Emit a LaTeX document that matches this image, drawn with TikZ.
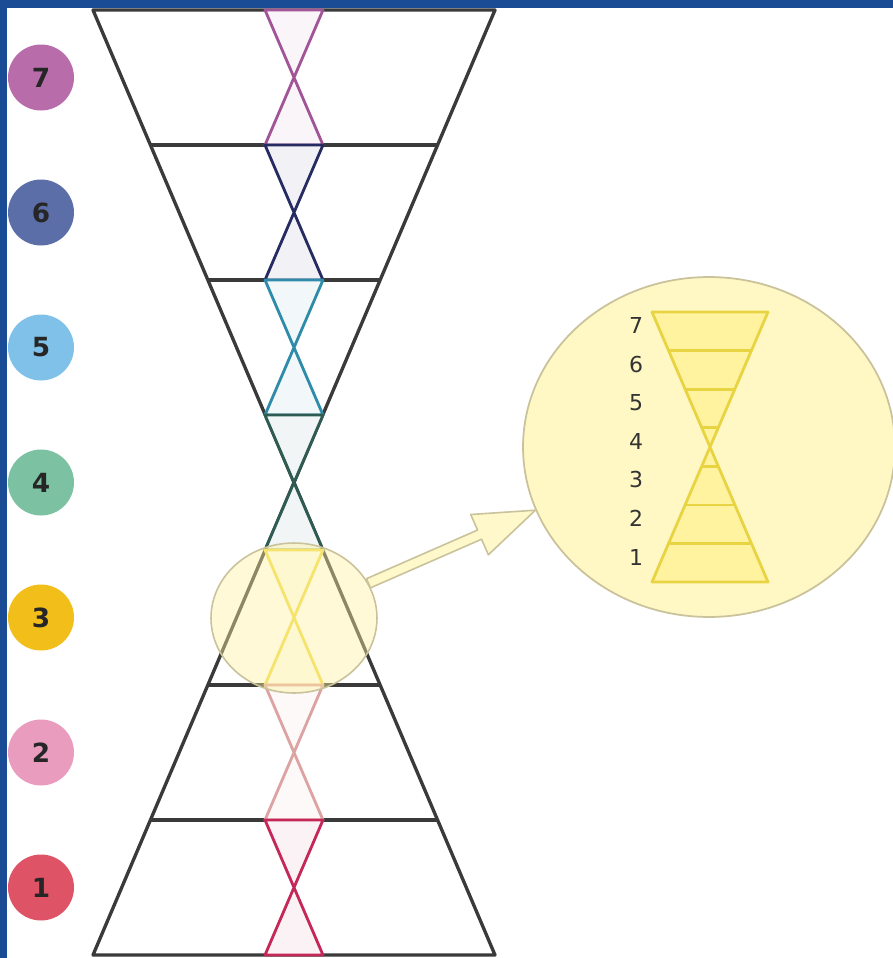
\documentclass[tikz,border=0pt]{standalone}
\usepackage{fontspec}
\setsansfont{DejaVu Sans}
\usetikzlibrary{calc, shapes.geometric}
\definecolor{cbg}{HTML}{1A4C96}
\definecolor{cline}{HTML}{3A3A3A}
\definecolor{clens}{HTML}{FFF3A0}
\definecolor{cedge}{HTML}{C9C29A}
\definecolor{cgold}{HTML}{E8D443}
\definecolor{ctext}{HTML}{333333}
\definecolor{c1}{HTML}{DE5466}
\definecolor{c2}{HTML}{EA9CBF}
\definecolor{c3}{HTML}{F2BE1A}
\definecolor{c4}{HTML}{7CC1A2}
\definecolor{c5}{HTML}{80C1E9}
\definecolor{c6}{HTML}{5B6EA8}
\definecolor{c7}{HTML}{B86DAA}
\definecolor{l1}{HTML}{C42758}
\definecolor{l2}{HTML}{DDA3A3}
\definecolor{l3}{HTML}{EED94A}
\definecolor{l4}{HTML}{2E5C52}
\definecolor{l5}{HTML}{2E8BAA}
\definecolor{l6}{HTML}{262B62}
\definecolor{l7}{HTML}{A25596}
\tikzset{
  every picture/.style={font=\sffamily, line join=round},
  dot/.style={circle, fill=#1, minimum size=1.32cm, inner sep=0pt, text=black!85,
    font=\sffamily\bfseries\fontsize{15}{17}\selectfont},
  band/.style={draw=cline, line width=1.9pt},
  xmark/.style={draw=#1, fill=#1!6, line width=1.6pt},
  mini/.style={draw=cgold, line width=1.6pt},
  num/.style={font=\sffamily\fontsize{12.5}{14}\selectfont, text=ctext},
}

\begin{document}
\begin{tikzpicture}[x=0.02cm, y=-0.02cm]
  \useasboundingbox (0,0) rectangle (893,958);
  \fill[cbg] (0,0) rectangle (893,958);
  \fill[white] (7,8) rectangle (893,958);

  \draw[band] (93,10) -- (495,10) -- (93,955) -- (495,955) -- cycle;
  \foreach \y/\w in {145/143.6, 280/86.1, 415/28.7, 550/28.7, 685/86.1, 820/143.6}
    \draw[band] (294-\w,\y) -- (294+\w,\y);
  \foreach \n/\yt in {7/10, 6/145, 5/280, 4/415, 3/550, 2/685, 1/820}
    \draw[xmark=l\n] (265,\yt) -- (323,\yt) -- (265,\yt+135) -- (323,\yt+135) -- cycle;

  \foreach \n in {1,...,7}
    \node[dot=c\n] (dot\n) at (41,{887.5-135*(\n-1)}) {\n};

  \node[ellipse, draw=cedge, fill=clens, fill opacity=0.42, line width=0.9pt,
    minimum width=3.32cm, minimum height=3cm] (lens) at (294,618) {};
  \node[ellipse, draw=cedge, fill=clens!62, line width=1pt,
    minimum width=7.44cm, minimum height=6.8cm] (zoom) at (709,447) {};

  \coordinate (tail) at (lens.25);
  \coordinate (tip) at (zoom.200);
  \coordinate (neck) at ($(tip)!1.22cm!(tail)$);
  \draw[draw=cedge, fill=clens!55, line width=0.9pt]
    ($(tail)!0.1cm!90:(tip)$) -- ($(neck)!0.1cm!90:(tip)$) -- ($(neck)!0.44cm!90:(tip)$) -- (tip)
    -- ($(neck)!0.44cm!-90:(tip)$) -- ($(neck)!0.1cm!-90:(tip)$) -- ($(tail)!0.1cm!-90:(tip)$) -- cycle;

  \fill[clens] (652,312) -- (768,312) -- (652,582) -- (768,582) -- cycle;
  \draw[mini] (652,312) -- (768,312) -- (652,582) -- (768,582) -- cycle;
  \foreach \y/\w in {350.6/41.5, 389.1/24.9, 427.7/8.3, 466.3/8.3, 504.9/24.9, 543.4/41.5}
    \draw[mini] (710-\w,\y) -- (710+\w,\y);
  \foreach \n in {1,...,7}
    \node[num] (lvl\n) at (636,{557-38.6*(\n-1)}) {\n};
\end{tikzpicture}
\end{document}
